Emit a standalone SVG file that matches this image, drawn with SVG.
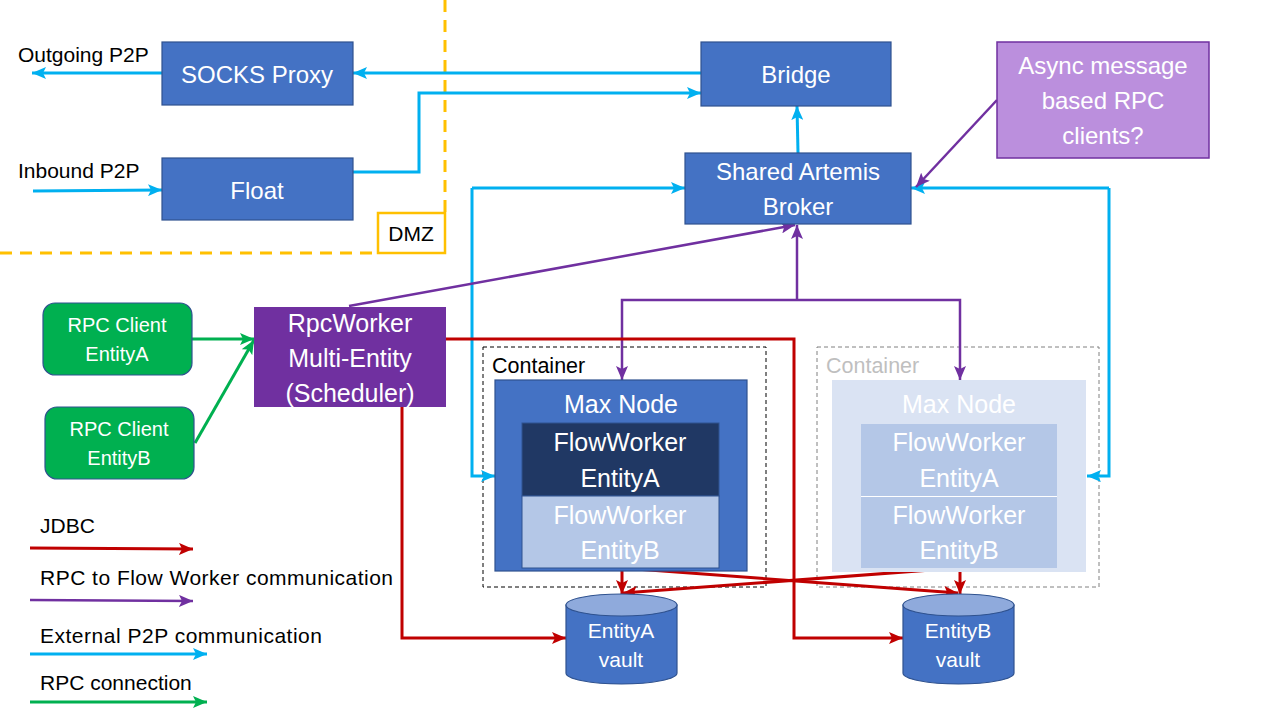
<svg xmlns="http://www.w3.org/2000/svg" width="1280" height="720" viewBox="0 0 1280 720">
<style>
text{font-family:"Liberation Sans",Arial,sans-serif;}
.w{fill:#fff;text-anchor:middle;}
.k{fill:#000;}
.box{fill:#4472C4;stroke:#2F528F;stroke-width:1.2;}
.blue{stroke:#00B0F0;stroke-width:3;fill:none;}
.red{stroke:#C00000;stroke-width:3;fill:none;}
.pur{stroke:#7030A0;stroke-width:2.5;fill:none;}
.grn{stroke:#00B050;stroke-width:3;fill:none;}
</style>
<defs>
<marker id="ab" markerUnits="userSpaceOnUse" markerWidth="16" markerHeight="12" refX="14" refY="6" orient="auto"><path d="M0,0 L14,6 L0,12 L3,6 Z" fill="#00B0F0"/></marker>
<marker id="ar" markerUnits="userSpaceOnUse" markerWidth="16" markerHeight="12" refX="14" refY="6" orient="auto"><path d="M0,0 L14,6 L0,12 L3,6 Z" fill="#C00000"/></marker>
<marker id="ap" markerUnits="userSpaceOnUse" markerWidth="16" markerHeight="12" refX="14" refY="6" orient="auto"><path d="M0,0 L14,6 L0,12 L3,6 Z" fill="#7030A0"/></marker>
<marker id="ag" markerUnits="userSpaceOnUse" markerWidth="16" markerHeight="12" refX="14" refY="6" orient="auto"><path d="M0,0 L14,6 L0,12 L3,6 Z" fill="#00B050"/></marker>
</defs>
<rect width="1280" height="720" fill="#fff"/>

<g id="dmz">
<path d="M445,0 L445,213 M0,253 L378,253" stroke="#FFC000" stroke-width="3" stroke-dasharray="12,8" fill="none"/>
<rect x="378" y="213" width="67" height="40" fill="#fff" stroke="#FFC000" stroke-width="2.5"/>
<text x="411" y="241" font-size="21" class="k" text-anchor="middle">DMZ</text>
</g>

<g id="labels-ext">
<text x="18" y="62" font-size="21" class="k">Outgoing P2P</text>
<text x="18" y="178" font-size="21" class="k">Inbound P2P</text>
</g>

<g id="containerA">
<rect x="483" y="347" width="283" height="240" fill="none" stroke="#000" stroke-width="1" stroke-dasharray="4,3"/>
<text x="492" y="373" font-size="21.5" class="k">Container</text>
</g>
<g id="containerB">
<rect x="817" y="347" width="282" height="240" fill="none" stroke="#808080" stroke-width="1" stroke-dasharray="4,3"/>
<text x="826" y="373" font-size="21.5" fill="#BFBFBF">Container</text>
</g>

<g id="connectors">
<path class="blue" d="M162,73 L32,73" marker-end="url(#ab)"/>
<path class="blue" d="M33,191 L162,190" marker-end="url(#ab)"/>
<path class="blue" d="M701,73 L353,73" marker-end="url(#ab)"/>
<path class="blue" d="M353,172 L419,172 L419,93 L701,93" marker-end="url(#ab)"/>
<path class="blue" d="M798,153 L797,106" marker-end="url(#ab)"/>
<path class="blue" d="M472,188 L685,188" marker-end="url(#ab)"/>
<path class="blue" d="M472,188 L472,476 L495,476" marker-end="url(#ab)"/>
<path class="blue" d="M1109,188 L911,188" marker-end="url(#ab)"/>
<path class="blue" d="M1109,188 L1109,476 L1087,476" marker-end="url(#ab)"/>

<path class="pur" d="M997,100 L916,187" marker-end="url(#ap)"/>
<path class="pur" d="M349,306 L795,225" marker-end="url(#ap)"/>
<path class="pur" d="M797,300 L797,225" marker-end="url(#ap)"/>
<path class="pur" d="M797,300 L622,300 L622,380" marker-end="url(#ap)"/>
<path class="pur" d="M797,300 L960,300 L960,380" marker-end="url(#ap)"/>

<path class="grn" d="M192,339 L254,339" marker-end="url(#ag)"/>
<path class="grn" d="M195,443 L254,340" marker-end="url(#ag)"/>

<path class="red" d="M445,339 L794,339 L794,638 L903,638" marker-end="url(#ar)"/>
<path class="red" d="M402,407 L402,638 L566,638" marker-end="url(#ar)"/>
<path class="red" d="M622,568 L622,594" marker-end="url(#ar)"/>
<path class="red" d="M960,568 L960,594" marker-end="url(#ar)"/>
<path class="red" d="M622,568 L958,593" marker-end="url(#ar)"/>
<path class="red" d="M958,568 L623,593" marker-end="url(#ar)"/>

<path class="red" d="M30,548 L193,549" marker-end="url(#ar)"/>
<path class="pur" d="M30,600 L193,601" marker-end="url(#ap)"/>
<path class="blue" d="M30,654 L207,654" marker-end="url(#ab)"/>
<path class="grn" d="M30,702 L207,702" marker-end="url(#ag)"/>
</g>

<g id="socks"><rect class="box" x="162" y="42" width="191" height="63"/><text class="w" x="257" y="83" font-size="24">SOCKS Proxy</text></g>
<g id="float"><rect class="box" x="162" y="158" width="191" height="62"/><text class="w" x="257" y="199" font-size="24">Float</text></g>
<g id="bridge"><rect class="box" x="701" y="42" width="190" height="64"/><text class="w" x="796" y="83" font-size="24">Bridge</text></g>
<g id="broker"><rect class="box" x="685" y="153" width="226" height="71"/><text class="w" x="798" y="180" font-size="24">Shared Artemis</text><text class="w" x="798" y="215" font-size="24">Broker</text></g>
<g id="async"><rect x="997" y="42" width="212" height="116" fill="#BB8FDD" stroke="#7030A0" stroke-width="1.5"/><text class="w" x="1103" y="74" font-size="24">Async message</text><text class="w" x="1103" y="109" font-size="24">based RPC</text><text class="w" x="1103" y="144" font-size="24">clients?</text></g>

<g id="rpcA"><rect x="43" y="303" width="149" height="72" rx="12" fill="#00B050" stroke="#2F528F" stroke-width="1.2"/><text class="w" x="117" y="332" font-size="20">RPC Client</text><text class="w" x="117" y="361" font-size="20">EntityA</text></g>
<g id="rpcB"><rect x="45" y="407" width="149" height="72" rx="12" fill="#00B050" stroke="#2F528F" stroke-width="1.2"/><text class="w" x="119" y="436" font-size="20">RPC Client</text><text class="w" x="119" y="465" font-size="20">EntityB</text></g>
<g id="rpcworker"><rect x="254" y="307" width="192" height="100" fill="#7030A0"/><text class="w" x="350" y="332" font-size="25">RpcWorker</text><text class="w" x="350" y="367" font-size="25">Multi-Entity</text><text class="w" x="350" y="402" font-size="25">(Scheduler)</text></g>

<g id="maxnodeA">
<rect class="box" x="495" y="380" width="252" height="191"/>
<text class="w" x="621" y="413" font-size="25">Max Node</text>
<rect x="522" y="423" width="197" height="73" fill="#203864" stroke="#2F528F" stroke-width="1"/>
<text class="w" x="620" y="451" font-size="25">FlowWorker</text><text class="w" x="620" y="487" font-size="25">EntityA</text>
<rect x="522" y="496" width="197" height="72" fill="#B4C7E7" stroke="#2F528F" stroke-width="1"/>
<text class="w" x="620" y="524" font-size="25">FlowWorker</text><text class="w" x="620" y="559" font-size="25">EntityB</text>
</g>
<g id="maxnodeB">
<rect x="832" y="380" width="254" height="192" fill="#DAE3F3"/>
<text class="w" x="959" y="413" font-size="25">Max Node</text>
<rect x="861" y="424" width="196" height="72" fill="#B4C7E7"/>
<text class="w" x="959" y="451" font-size="25">FlowWorker</text><text class="w" x="959" y="487" font-size="25">EntityA</text>
<rect x="861" y="497" width="196" height="71" fill="#B4C7E7"/>
<line x1="861" y1="496.5" x2="1057" y2="496.5" stroke="#fff" stroke-width="1"/>
<text class="w" x="959" y="524" font-size="25">FlowWorker</text><text class="w" x="959" y="559" font-size="25">EntityB</text>
</g>

<g id="vaultA">
<path d="M566,605 L566,673 A55.5,11 0 0 0 677,673 L677,605 Z" fill="#4472C4" stroke="#2F528F" stroke-width="1.2"/>
<ellipse cx="621.5" cy="605" rx="55.5" ry="11" fill="#8FAADC" stroke="#2F528F" stroke-width="1.2"/>
<text class="w" x="621" y="638" font-size="21">EntityA</text><text class="w" x="621" y="667" font-size="21">vault</text>
</g>
<g id="vaultB">
<path d="M903,605 L903,673 A55.5,11 0 0 0 1014,673 L1014,605 Z" fill="#4472C4" stroke="#2F528F" stroke-width="1.2"/>
<ellipse cx="958.5" cy="605" rx="55.5" ry="11" fill="#8FAADC" stroke="#2F528F" stroke-width="1.2"/>
<text class="w" x="958" y="638" font-size="21">EntityB</text><text class="w" x="958" y="667" font-size="21">vault</text>
</g>

<g id="legend">
<text x="40" y="533" font-size="21" class="k">JDBC</text>
<text x="40" y="585" font-size="21" class="k" textLength="353" lengthAdjust="spacing">RPC to Flow Worker communication</text>
<text x="40" y="643" font-size="21" class="k" textLength="282" lengthAdjust="spacing">External P2P communication</text>
<text x="40" y="690" font-size="21" class="k">RPC connection</text>
</g>
</svg>
